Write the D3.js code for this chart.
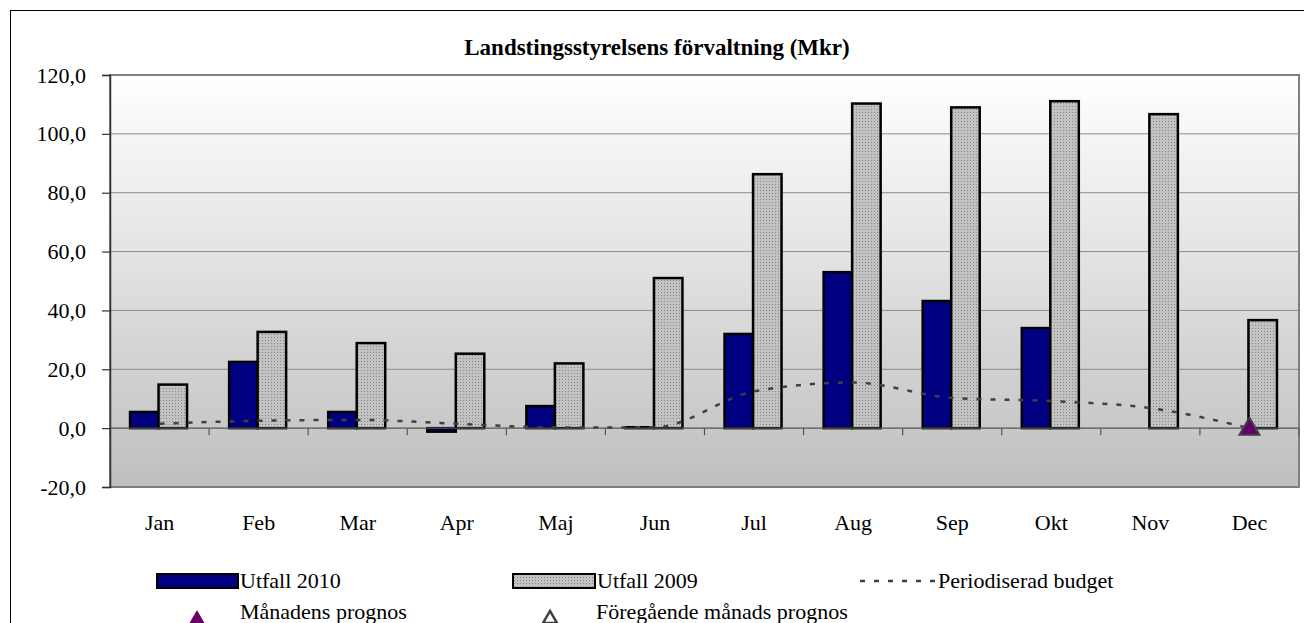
<!DOCTYPE html>
<html>
<head>
<meta charset="utf-8">
<script src="https://cdn.jsdelivr.net/npm/d3@7"></script>
<style>
body { margin: 0; background: #fff; }
svg text { font-family: "Liberation Serif", "Times New Roman", serif; fill: #000; }
</style>
</head>
<body>
<svg id="chart" width="1304" height="623"></svg>
<script>
// data
var months = ["Jan","Feb","Mar","Apr","Maj","Jun","Jul","Aug","Sep","Okt","Nov","Dec"];
var utfall2010 = [5.5, 22.5, 5.5, -1.2, 7.5, 0.3, 32, 53, 43.2, 34, null, null];
var utfall2009 = [14.8, 32.7, 28.9, 25.3, 22, 51, 86.3, 110.3, 109, 111.1, 106.7, 36.7];
var budget = [1.5, 2.5, 2.8, 1.5, 0.2, 0.3, 12.5, 15.5, 10.3, 9.2, 6.8, 0];
var prognos = [{month: "Dec", value: 0}];
var yTicks = [-20, 0, 20, 40, 60, 80, 100, 120];
var title = "Landstingsstyrelsens förvaltning (Mkr)";

var plotLeft = 110, plotRight = 1299, plotTop = 75, plotBottom = 487;
var barW = 28.5;
var fontSize = "22px";

var svg = d3.select("#chart");
var defs = svg.append("defs");

var grad = defs.append("linearGradient")
.attr("id", "bgGrad")
.attr("x1", 0).attr("y1", 0).attr("x2", 0).attr("y2", 1);
grad.append("stop").attr("offset", "0%").attr("stop-color", "#ffffff");
grad.append("stop").attr("offset", "100%").attr("stop-color", "#bfbfbf");

var pat = defs.append("pattern")
.attr("id", "dots")
.attr("patternUnits", "userSpaceOnUse")
.attr("width", 3).attr("height", 3);
pat.append("rect").attr("width", 3).attr("height", 3).attr("fill", "#c2c2c2");
pat.append("rect").attr("x", 1).attr("y", 1).attr("width", 1).attr("height", 1).attr("fill", "#888888");

// outer frame
svg.append("rect")
.attr("x", 10.5).attr("y", 10.5)
.attr("width", 1320).attr("height", 640)
.attr("fill", "none").attr("stroke", "#000").attr("stroke-width", 1);

var x = d3.scaleBand().domain(months).range([plotLeft, plotRight]);
var y = d3.scaleLinear().domain([-20, 120]).range([plotBottom, plotTop]);

svg.append("rect")
.attr("x", plotLeft).attr("y", plotTop)
.attr("width", plotRight-plotLeft).attr("height", plotBottom-plotTop)
.attr("fill", "url(#bgGrad)");

// gridlines
svg.append("g").selectAll("line").data(yTicks.filter(function(d) { return d != 0 && d != -20 && d != 120; }))
.enter().append("line")
.attr("x1", plotLeft).attr("x2", plotRight)
.attr("y1", function(d) { return y(d); }).attr("y2", function(d) { return y(d); })
.attr("stroke", "#8c8c8c").attr("stroke-width", 1);

svg.append("rect")
.attr("x", plotLeft).attr("y", plotTop)
.attr("width", plotRight-plotLeft).attr("height", plotBottom-plotTop)
.attr("fill", "none").attr("stroke", "#808080").attr("stroke-width", 2);

// bars
var g2010 = svg.append("g");
g2010.selectAll("rect").data(months.map(function(m, i) { return {m: m, v: utfall2010[i]}; })
	.filter(function(d) { return d.v != null; }))
.enter().append("rect")
.attr("x", function(d) { return x(d.m) + x.bandwidth()/2 - barW - 1; })
.attr("y", function(d) { return y(Math.max(0, d.v)); })
.attr("width", barW)
.attr("height", function(d) { return Math.abs(y(d.v) - y(0)); })
.attr("fill", "#000080").attr("stroke", "#000").attr("stroke-width", 2.5);

var g2009 = svg.append("g");
g2009.selectAll("rect").data(months.map(function(m, i) { return {m: m, v: utfall2009[i]}; }))
.enter().append("rect")
.attr("x", function(d) { return x(d.m) + x.bandwidth()/2 - 1; })
.attr("y", function(d) { return y(Math.max(0, d.v)); })
.attr("width", barW)
.attr("height", function(d) { return Math.abs(y(d.v) - y(0)); })
.attr("fill", "url(#dots)").attr("stroke", "#000").attr("stroke-width", 2.5);

// zero axis with category ticks
svg.append("line")
.attr("x1", plotLeft).attr("x2", plotRight)
.attr("y1", y(0)).attr("y2", y(0))
.attr("stroke", "#555").attr("stroke-width", 1.2);
var gx = svg.append("g")
.attr("transform", "translate(0," + y(0) + ")");
gx.selectAll("line").data(months.concat(["end"]))
.enter().append("line")
.attr("x1", function(d) { return d == "end" ? plotRight : x(d); })
.attr("x2", function(d) { return d == "end" ? plotRight : x(d); })
.attr("y1", 0).attr("y2", 7)
.attr("stroke", "#555").attr("stroke-width", 1.2);
svg.append("g")
.selectAll("text").data(months)
.enter().append("text")
.attr("x", function(d) { return x(d) + x.bandwidth()/2; })
.attr("y", 530)
.attr("text-anchor", "middle")
.attr("font-size", fontSize)
.text(function(d) { return d; });

// y axis
var yAxis = d3.axisLeft(y).tickValues(yTicks).tickSize(8).tickPadding(16)
.tickFormat(function(d) { return d3.format(".1f")(d).replace(".", ",").replace("\u2212", "-"); });
var gy = svg.append("g")
.attr("transform", "translate(" + plotLeft + ",0)")
.call(yAxis);
gy.select(".domain").attr("stroke", "#333").attr("stroke-width", 1.5);
gy.selectAll(".tick line").attr("stroke", "#333").attr("stroke-width", 1.2);
gy.selectAll(".tick text")
.attr("font-size", fontSize)
.attr("font-family", "Liberation Serif, serif")
.attr("fill", "#000");

// budget line
var line = d3.line()
.x(function(d, i) { return x(months[i]) + x.bandwidth()/2; })
.y(function(d) { return y(d); })
.curve(d3.curveMonotoneX);
svg.append("path")
.datum(budget)
.attr("d", line)
.attr("fill", "none")
.attr("stroke", "#404040")
.attr("stroke-width", 2.5)
.attr("stroke-dasharray", "5,9");

// prognos markers
var tri = d3.symbol().type(d3.symbolTriangle).size(170);
svg.append("g").selectAll("path").data(prognos)
.enter().append("path")
.attr("d", tri)
.attr("transform", function(d) { return "translate(" + (x(d.month) + x.bandwidth()/2) + "," + (y(d.value) + 1) + ")"; })
.attr("fill", "#660066").attr("stroke", "#404040").attr("stroke-width", 2);

// title
svg.append("text")
.attr("x", 657).attr("y", 55)
.attr("text-anchor", "middle")
.attr("font-size", "23px")
.attr("font-weight", "bold")
.text(title);

// legend
var leg = svg.append("g");
leg.append("rect").attr("x", 157).attr("y", 574).attr("width", 81).attr("height", 14)
.attr("fill", "#000080").attr("stroke", "#000").attr("stroke-width", 2);
leg.append("text").attr("x", 240).attr("y", 588).attr("font-size", fontSize).text("Utfall 2010");
leg.append("rect").attr("x", 513).attr("y", 574).attr("width", 82).attr("height", 14)
.attr("fill", "url(#dots)").attr("stroke", "#000").attr("stroke-width", 2);
leg.append("text").attr("x", 597).attr("y", 588).attr("font-size", fontSize).text("Utfall 2009");
leg.append("line").attr("x1", 860).attr("x2", 936).attr("y1", 581).attr("y2", 581)
.attr("stroke", "#404040").attr("stroke-width", 2.5).attr("stroke-dasharray", "5,9");
leg.append("text").attr("x", 938).attr("y", 588).attr("font-size", fontSize).text("Periodiserad budget");

var triSmall = d3.symbol().type(d3.symbolTriangle).size(85);
leg.append("path").attr("d", triSmall)
.attr("transform", "translate(197,619)")
.attr("fill", "#660066").attr("stroke", "#660066").attr("stroke-width", 1);
leg.append("text").attr("x", 240).attr("y", 619).attr("font-size", fontSize).text("Månadens prognos");
leg.append("path").attr("d", triSmall)
.attr("transform", "translate(550,619)")
.attr("fill", "none").attr("stroke", "#404040").attr("stroke-width", 2.5);
leg.append("text").attr("x", 596).attr("y", 619).attr("font-size", fontSize).text("Föregående månads prognos");
</script>
</body>
</html>
